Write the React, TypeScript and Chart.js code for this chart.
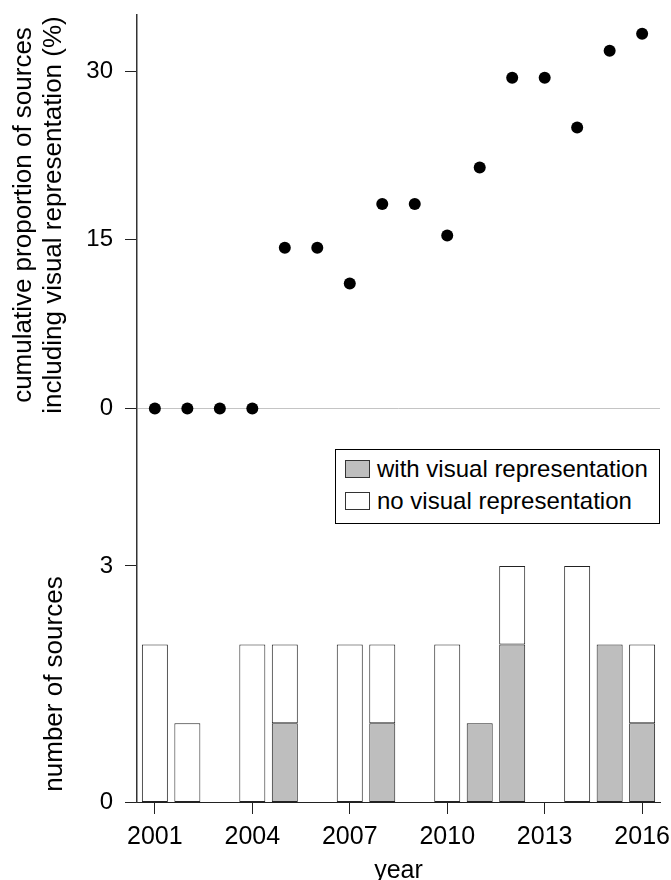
import React, { useEffect, useRef } from "react";
import { Chart, registerables } from "chart.js";

Chart.register(...registerables);

// Publication years covered by the review
const years = [2001, 2002, 2003, 2004, 2005, 2006, 2007, 2008, 2009, 2010, 2011, 2012, 2013, 2014, 2015, 2016];
// Sources per year that include a visual representation
const withVisual = [0, 0, 0, 0, 1, 0, 0, 1, 0, 0, 1, 2, 0, 0, 2, 1];
// Sources per year without a visual representation
const noVisual = [2, 1, 0, 2, 1, 0, 2, 1, 0, 2, 0, 1, 0, 3, 0, 1];
// Cumulative share (%) of sources including a visual representation
const cumulativePct = [0, 0, 0, 0, 14.29, 14.29, 11.11, 18.18, 18.18, 15.38, 21.43, 29.41, 29.41, 25.0, 31.82, 33.33];

const xTicks = [2001, 2004, 2007, 2010, 2013, 2016];
const pctTicks = [0, 15, 30];
const countTicks = [0, 3];

// Ranges of the two stacked panels sharing one plotting area
const X_MIN = 2000.45;
const X_MAX = 2016.55;
const PCT_MIN = -35;
const PCT_MAX = 35;
const COUNT_MIN = 0;
const COUNT_MAX = 10;

const FONT = "'Liberation Sans', Arial, Helvetica, sans-serif";
const GREY = "#bebebe";
const EDGE = "#222222";

// Express a count value in the units of the shared left axis
const countToPct = (v: number) =>
  PCT_MIN + ((v - COUNT_MIN) / (COUNT_MAX - COUNT_MIN)) * (PCT_MAX - PCT_MIN);

export default function App() {
  const canvasRef = useRef<HTMLCanvasElement | null>(null);

  useEffect(() => {
    const canvas = canvasRef.current;
    if (!canvas) return;

    const leftLabels = new Map<number, string>();
    pctTicks.forEach((v) => leftLabels.set(v, String(v)));
    countTicks.forEach((v) => leftLabels.set(countToPct(v), String(v)));

    const nullIfZero = (v: number) => (v === 0 ? null : v);
    // empty segments get no outline
    const edgeWidth = (ctx: any) => (ctx.raw && ctx.raw.y ? 1 : 0);

    const chart = new Chart(canvas, {
      type: "bar",
      data: {
        datasets: [
          {
            type: "scatter",
            label: "cumulative proportion",
            data: years.map((x, i) => ({ x, y: cumulativePct[i] })),
            xAxisID: "x",
            yAxisID: "y",
            backgroundColor: "#000000",
            borderColor: "#000000",
            borderWidth: 0,
            pointRadius: 6,
            pointHoverRadius: 6,
            showLine: false,
          } as any,
          {
            type: "bar",
            label: "with visual representation",
            data: years.map((x, i) => ({ x, y: nullIfZero(withVisual[i]) })),
            xAxisID: "x",
            yAxisID: "yCount",
            backgroundColor: GREY,
            borderColor: EDGE,
            borderWidth: edgeWidth,
            borderSkipped: false,
            barPercentage: 0.8,
            categoryPercentage: 1,
            stack: "sources",
          } as any,
          {
            type: "bar",
            label: "no visual representation",
            data: years.map((x, i) => ({ x, y: nullIfZero(noVisual[i]) })),
            xAxisID: "x",
            yAxisID: "yCount",
            backgroundColor: "#ffffff",
            borderColor: EDGE,
            borderWidth: edgeWidth,
            borderSkipped: false,
            barPercentage: 0.8,
            categoryPercentage: 1,
            stack: "sources",
          } as any,
        ],
      },
      options: {
        responsive: false,
        animation: false,
        devicePixelRatio: 1,
        layout: { padding: { top: 15, right: 11, left: 0, bottom: 0 } },
        plugins: {
          legend: { display: false },
          tooltip: { enabled: false },
        },
        scales: {
          x: {
            type: "linear",
            min: X_MIN,
            max: X_MAX,
            offset: false,
            stacked: true,
            afterBuildTicks: (scale: any) => {
              scale.ticks = xTicks.map((value) => ({ value }));
            },
            afterFit: (scale: any) => {
              scale.height = 78;
              scale.paddingLeft = 0;
              scale.paddingRight = 0;
            },
            ticks: {
              autoSkip: false,
              maxRotation: 0,
              color: "#000000",
              padding: 8,
              font: { family: FONT, size: 25 },
              callback: (v: any) => String(v),
            },
            grid: {
              offset: false,
              drawOnChartArea: false,
              drawTicks: true,
              tickLength: 12,
              tickColor: EDGE,
              color: EDGE,
            },
            border: { display: true, color: EDGE, width: 1 },
            title: {
              display: true,
              text: "year",
              color: "#000000",
              font: { family: FONT, size: 25 },
              padding: { top: 0, bottom: -6 },
            },
          },
          y: {
            type: "linear",
            position: "left",
            min: PCT_MIN,
            max: PCT_MAX,
            afterBuildTicks: (scale: any) => {
              scale.ticks = Array.from(leftLabels.keys())
                .sort((a, b) => a - b)
                .map((value) => ({ value }));
            },
            afterFit: (scale: any) => {
              scale.width = 137;
              scale.paddingTop = 0;
              scale.paddingBottom = 0;
            },
            ticks: {
              autoSkip: false,
              color: "#000000",
              padding: 12,
              font: { family: FONT, size: 24 },
              callback: (v: any) => leftLabels.get(Number(v)) ?? "",
            },
            grid: {
              drawOnChartArea: true,
              drawTicks: true,
              tickLength: 12,
              tickColor: EDGE,
              lineWidth: 1,
              color: (ctx: any) =>
                ctx.tick && ctx.tick.value === 0 ? "#c4c4c4" : "rgba(0,0,0,0)",
            },
            border: { display: true, color: "#333333", width: 1.5 },
          },
          yCount: {
            type: "linear",
            position: "left",
            display: false,
            min: COUNT_MIN,
            max: COUNT_MAX,
            stacked: true,
          },
        },
      } as any,
    });

    return () => chart.destroy();
  }, []);

  const titleStyle: React.CSSProperties = {
    position: "absolute",
    fontFamily: FONT,
    fontSize: 26,
    lineHeight: "30px",
    color: "#000",
    textAlign: "center",
    whiteSpace: "nowrap",
    transform: "rotate(-90deg)",
  };

  const swatch = (bg: string): React.CSSProperties => ({
    position: "absolute",
    left: 9,
    width: 25,
    height: 18,
    boxSizing: "border-box",
    border: "1px solid #333",
    background: bg,
  });

  const legendText: React.CSSProperties = {
    position: "absolute",
    left: 41,
    fontFamily: FONT,
    fontSize: 24,
    lineHeight: "30px",
    color: "#000",
    whiteSpace: "nowrap",
  };

  return (
    <div style={{ position: "absolute", left: 0, top: 0, width: 671, height: 880, background: "#fff" }}>
      <canvas ref={canvasRef} width={671} height={880} style={{ display: "block" }} />
      <div style={{ ...titleStyle, width: 430, height: 60, left: 36.5 - 215, top: 215 - 30 }}>
        cumulative proportion of sources
        <br />
        including visual representation (%)
      </div>
      <div style={{ ...titleStyle, width: 300, height: 30, left: 52.5 - 150, top: 684 - 15 }}>
        number of sources
      </div>
      <div
        style={{
          position: "absolute",
          left: 335,
          top: 449,
          width: 325,
          height: 75,
          boxSizing: "border-box",
          border: "1px solid #000",
          background: "#fff",
        }}
      >
        <div style={{ ...swatch(GREY), top: 10 }} />
        <div style={{ ...legendText, top: 4 }}>with visual representation</div>
        <div style={{ ...swatch("#fff"), top: 42 }} />
        <div style={{ ...legendText, top: 36 }}>no visual representation</div>
      </div>
    </div>
  );
}
